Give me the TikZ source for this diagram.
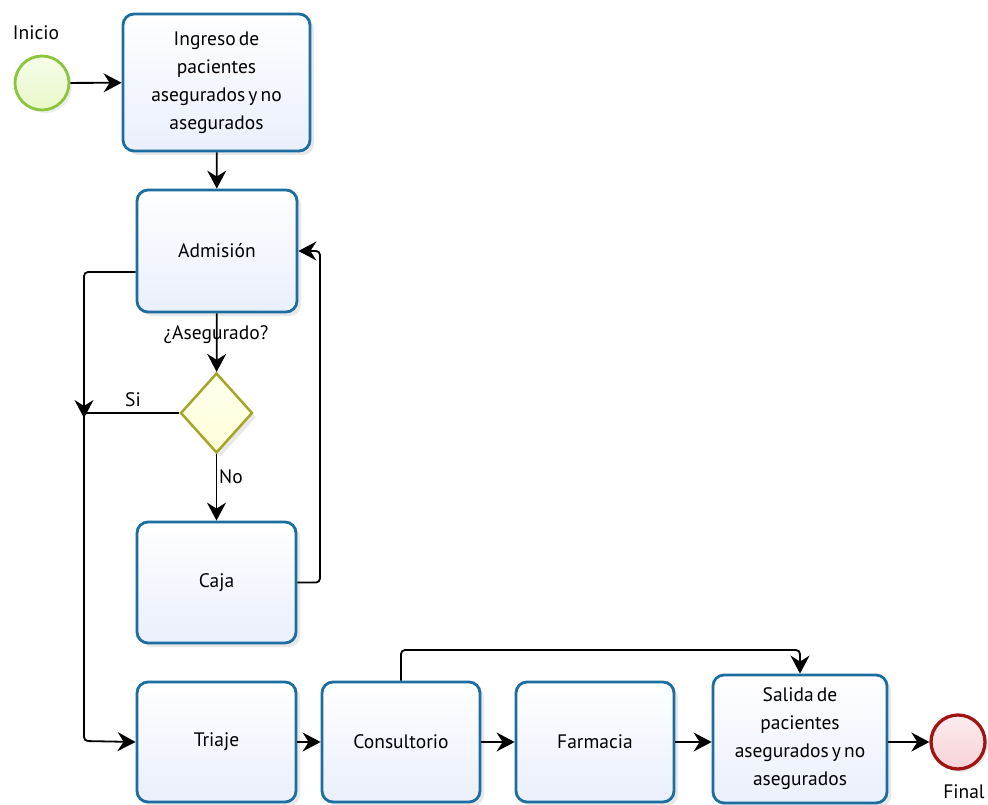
\documentclass[tikz,border=0pt]{standalone}
\usepackage{fontspec}
\setmainfont[WordSpace=0.6]{PT Sans}
\usetikzlibrary{shapes.geometric,arrows.meta,shadows}
\definecolor{boxline}{RGB}{28,110,160}
\definecolor{boxfill}{RGB}{234,239,252}
\definecolor{startline}{RGB}{140,196,60}
\definecolor{startfill}{RGB}{232,248,200}
\definecolor{endline}{RGB}{160,20,20}
\definecolor{endfill}{RGB}{248,210,214}
\definecolor{gwline}{RGB}{165,165,40}
\definecolor{gwfill}{RGB}{255,255,215}
\tikzset{
  task/.style={draw=boxline, line width=2.8pt, rounded corners=11pt,
    top color=white, bottom color=boxfill, align=center,
    font=\fontsize{19.5}{28}\selectfont, inner sep=2pt,
    drop shadow={opacity=0.18, shadow xshift=4pt, shadow yshift=-4pt}},
  startev/.style={circle, draw=startline, line width=2.8pt, top color=startfill!40, bottom color=startfill,
    minimum size=54pt, inner sep=0pt,
    drop shadow={opacity=0.15, shadow xshift=3pt, shadow yshift=-3pt}},
  endev/.style={circle, draw=endline, line width=3.3pt, top color=endfill!40, bottom color=endfill,
    minimum size=54pt, inner sep=0pt,
    drop shadow={opacity=0.15, shadow xshift=3pt, shadow yshift=-3pt}},
  gw/.style={diamond, draw=gwline, line width=2.5pt, top color=gwfill!40, bottom color=gwfill,
    minimum width=72pt, minimum height=80pt, inner sep=0pt,
    drop shadow={opacity=0.18, shadow xshift=4pt, shadow yshift=-4pt}},
  flow/.style={line width=1.8pt, -{Stealth[length=18pt,width=19pt,inset=6pt]}, rounded corners=4pt},
  plain/.style={line width=1.8pt, rounded corners=4pt},
  lbl/.style={font=\fontsize{19.5}{22}\selectfont, inner sep=1pt}
}
\begin{document}
\begin{tikzpicture}[x=1pt,y=-1pt]
\useasboundingbox (0,0) rectangle (988,805);
\node[startev] (ini) at (42,83) {};
\node[lbl] (inil) at (36,33) {Inicio};
\node[task, minimum width=187pt, minimum height=137pt] (ing) at (216.5,82.5) {Ingreso de\\pacientes\\asegurados y no\\asegurados};
\node[task, minimum width=160pt, minimum height=122pt] (adm) at (217,251) {Admisión};
\node[gw] (gw) at (216.5,413) {};
\node[task, minimum width=159pt, minimum height=121pt] (caja) at (216.5,582.5) {Caja};
\node[task, minimum width=159pt, minimum height=120pt] (tri) at (216.5,742) {Triaje};
\node[task, minimum width=158pt, minimum height=120pt] (con) at (401,742) {Consultorio};
\node[task, minimum width=158pt, minimum height=120pt] (far) at (595,742) {Farmacia};
\node[task, minimum width=174pt, minimum height=128pt] (sal) at (800,739) {Salida de\\pacientes\\asegurados y no\\asegurados};
\node[endev] (fin) at (958,742) {};
\node[lbl] (finl) at (964,792) {Final};
\node[lbl] (asl) at (216,335) {¿Asegurado?};
\node[lbl] (sil) at (133,400) {Si};
\node[lbl] (nol) at (231,477) {No};
\coordinate (jl) at (84,413);

\draw[flow] (ini) -- (ing);
\draw[flow] (ing) -- (adm);
\draw[flow] (adm) -- (gw);
\draw[flow] (gw) -- (caja);
\draw[flow] ([yshift=-21pt]adm.west) -- (84,272) -- ([yshift=-5pt]jl);
\draw[plain] (gw.west) -- (jl);
\draw[flow] (jl) -- (84,741) -- (tri.west);
\draw[flow] (caja.east) -- (320,582.5) -- (320,251) -- (adm.east);
\draw[flow] (tri) -- (con);
\draw[flow] (con) -- (far);
\draw[flow] (far) -- (far -| sal.west);
\draw[flow] (sal.east |- fin) -- (fin);
\draw[flow] (con.north) -- (401,650) -- (800,650) -- (sal.north);
\end{tikzpicture}
\end{document}
